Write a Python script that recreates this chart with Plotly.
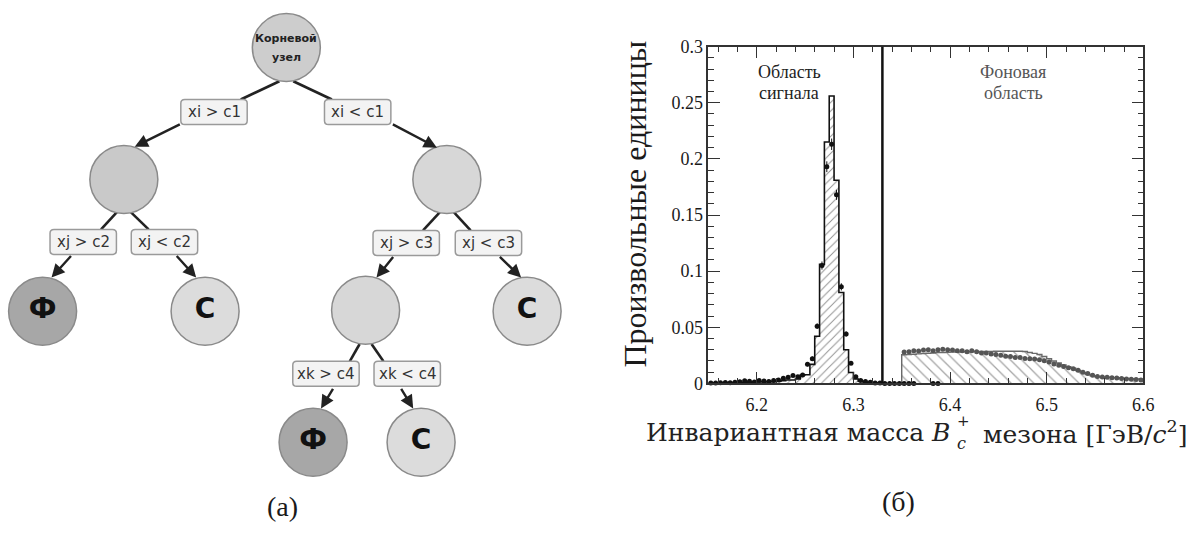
import plotly.graph_objects as go

W, H = 1194, 533

# ---------------- histogram data (right panel) ----------------
BIN_W = 0.005
SIG_START = 6.15
# signal MC histogram, 0.005 GeV bins from 6.15 to 6.33
sig_hist = [0.0005, 0.0005, 0.0006, 0.0006, 0.0007, 0.0008, 0.0009, 0.0010, 0.0011, 0.0012,
            0.0013, 0.0014, 0.0015, 0.0016, 0.0020, 0.0025, 0.0030, 0.0030, 0.0040, 0.0075,
            0.0078, 0.0170, 0.0420, 0.1060, 0.2150, 0.2560, 0.1810, 0.0810, 0.0300, 0.0097,
            0.0040, 0.0020, 0.0010, 0.0007, 0.0005, 0.0003]
# signal data points (same bins)
sig_pts = [0.0005, 0.0004, 0.0006, 0.0008, 0.0007, 0.0010, 0.0015, 0.0025, 0.0020, 0.0012,
           0.0026, 0.0022, 0.0018, 0.0027, 0.0030, 0.0046, 0.0054, 0.0070, 0.0060, 0.0075,
           0.0170, 0.0220, 0.0510, 0.1050, 0.1930, 0.2130, 0.1680, 0.0860, 0.0440, 0.0180,
           0.0060, 0.0026, 0.0017, 0.0010, 0.0005, 0.0003]
sig_err = [0.0003, 0.0003, 0.0003, 0.0004, 0.0004, 0.0005, 0.0006, 0.0008, 0.0007, 0.0005,
           0.0008, 0.0007, 0.0006, 0.0008, 0.0008, 0.0010, 0.0011, 0.0012, 0.0011, 0.0012,
           0.0018, 0.0020, 0.0025, 0.0036, 0.0048, 0.0051, 0.0045, 0.0032, 0.0023, 0.0015,
           0.0009, 0.0006, 0.0005, 0.0004, 0.0003, 0.0002]
# empty signal bins drawn beyond the cut
sig_zero_x = [6.3325, 6.3375, 6.3425, 6.3475, 6.3525, 6.3575, 6.3625, 6.3825, 6.3875]

BG_START = 6.35
# background (sideband) histogram, 0.005 GeV bins from 6.35 to 6.60
bg_hist = [0.0255, 0.0257, 0.0260, 0.0263, 0.0266, 0.0269, 0.0271, 0.0274, 0.0276, 0.0277,
           0.0279, 0.0280, 0.0281, 0.0282, 0.0283, 0.0284, 0.0284, 0.0285, 0.0285, 0.0286,
           0.0286, 0.0286, 0.0287, 0.0286, 0.0286, 0.0285, 0.0276, 0.0268, 0.0258, 0.0240,
           0.0220, 0.0200, 0.0182, 0.0165, 0.0150, 0.0135, 0.0115, 0.0095, 0.0080, 0.0068,
           0.0060, 0.0057, 0.0055, 0.0052, 0.0050, 0.0047, 0.0045, 0.0042, 0.0040, 0.0038]
bg_pts = [0.0280, 0.0282, 0.0290, 0.0288, 0.0298, 0.0300, 0.0292, 0.0300, 0.0305, 0.0300,
          0.0298, 0.0292, 0.0290, 0.0282, 0.0290, 0.0282, 0.0272, 0.0270, 0.0262, 0.0258,
          0.0250, 0.0242, 0.0240, 0.0232, 0.0230, 0.0222, 0.0220, 0.0218, 0.0212, 0.0202,
          0.0190, 0.0172, 0.0162, 0.0150, 0.0140, 0.0130, 0.0118, 0.0100, 0.0088, 0.0074,
          0.0062, 0.0058, 0.0054, 0.0050, 0.0048, 0.0044, 0.0040, 0.0038, 0.0034, 0.0031]
CUT = 6.33

x_ticks = [6.2, 6.3, 6.4, 6.5, 6.6]
y_ticks = [0, 0.05, 0.1, 0.15, 0.2, 0.25, 0.3]

# ---------------- decision tree (left panel) ----------------
node_x = [289, 125, 451, 43, 207, 369, 532, 316, 425]
node_y = [39, 176, 176, 313, 313, 312, 313, 449, 449]
node_text = ["", "", "", "Ф", "С", "", "С", "Ф", "С"]
node_fill = ["#cdcdcd", "#c9c9c9", "#d7d7d7", "#a7a7a7", "#dcdcdc", "#d7d7d7", "#dcdcdc", "#a7a7a7", "#dcdcdc"]
root_lines = ["Корневой", "узел"]

box_label = ["xi > c1", "xi < c1", "xj > c2", "xj < c2", "xj > c3", "xj < c3", "xk > c4", "xk < c4"]
box_x = [216, 361, 84, 166, 410, 493, 329, 411]
box_y = [106, 106, 241, 241, 242, 242, 378, 378]

# plain connectors (node -> condition box)
link_from = [(282, 74), (296, 74), (118, 210), (132, 210), (444, 210), (458, 210), (363, 347), (375, 347)]
link_to = [(243, 93), (335, 93), (102, 228), (150, 228), (427, 229), (475, 229), (353, 365), (387, 365)]
# arrows (condition box -> child node)
arrow_from = [(183, 118), (395, 118), (73, 254), (177, 254), (398, 255), (503, 255), (337, 392), (404, 392)]
arrow_to = [(136, 142), (441, 143), (52, 278), (198, 278), (380, 278), (526, 278), (324, 414), (417, 414)]

# ---------------- figure ----------------
fig = go.Figure()

sig_edges = [round(SIG_START + i * BIN_W, 4) for i in range(len(sig_hist) + 1)]
sig_cent = [round(SIG_START + (i + 0.5) * BIN_W, 5) for i in range(len(sig_hist))]
bg_edges = [round(BG_START + i * BIN_W, 4) for i in range(len(bg_hist) + 1)]
bg_cent = [round(BG_START + (i + 0.5) * BIN_W, 5) for i in range(len(bg_hist))]

# background hatched histogram
fig.add_trace(go.Scatter(
    x=[bg_edges[0]] + bg_edges[:-1] + [bg_edges[-1]],
    y=[0] + bg_hist + [0],
    mode="lines", line=dict(shape="hv", color="#6a6a6a", width=1.4),
    fill="tozeroy", fillcolor="rgba(255,255,255,0)",
    fillpattern=dict(shape="\\", fgcolor="#4a4a4a", bgcolor="rgba(255,255,255,0)", size=8, solidity=0.16),
    xaxis="x", yaxis="y", showlegend=False, hoverinfo="skip"))

# signal hatched histogram
fig.add_trace(go.Scatter(
    x=sig_edges[:-1] + [sig_edges[-1]],
    y=sig_hist + [0],
    mode="lines", line=dict(shape="hv", color="#111111", width=1.6),
    fill="tozeroy", fillcolor="rgba(255,255,255,0)",
    fillpattern=dict(shape="/", fgcolor="#222222", bgcolor="rgba(255,255,255,0)", size=6, solidity=0.16),
    xaxis="x", yaxis="y", showlegend=False, hoverinfo="skip"))

# background points
fig.add_trace(go.Scatter(
    x=bg_cent, y=bg_pts, mode="markers",
    marker=dict(size=5, color="#555555"),
    error_y=dict(type="constant", value=0.0006, color="#555555", thickness=1, width=0),
    xaxis="x", yaxis="y", showlegend=False, hoverinfo="skip"))

# signal points
fig.add_trace(go.Scatter(
    x=sig_cent, y=sig_pts, mode="markers",
    marker=dict(size=5, color="#111111"),
    error_y=dict(type="data", array=sig_err, color="#111111", thickness=1, width=0),
    xaxis="x", yaxis="y", showlegend=False, hoverinfo="skip", cliponaxis=False))
fig.add_trace(go.Scatter(
    x=sig_zero_x, y=[0] * len(sig_zero_x), mode="markers",
    marker=dict(size=5, color="#111111"),
    xaxis="x", yaxis="y", showlegend=False, hoverinfo="skip", cliponaxis=False))

# tree nodes
fig.add_trace(go.Scatter(
    x=node_x, y=node_y, mode="markers+text", text=node_text,
    textposition="middle center",
    textfont=dict(family="DejaVu Sans", size=28, color="#111111", weight="bold"),
    marker=dict(size=68, color=node_fill, line=dict(color="#8a8a8a", width=1.5)),
    xaxis="x2", yaxis="y2", showlegend=False, hoverinfo="skip", cliponaxis=False))

shapes = []
annotations = []


def ptext(txt, px, py, size, family, color="#1a1a1a", xanchor="center", angle=0):
    annotations.append(dict(xref="paper", yref="paper", x=px / W, y=1 - py / H, text=txt,
                            xanchor=xanchor, yanchor="middle", textangle=angle, showarrow=False,
                            borderpad=0, font=dict(family=family, size=size, color=color)))


# cut line
shapes.append(dict(type="line", xref="x", yref="y", x0=CUT, x1=CUT, y0=0, y1=0.3,
                   line=dict(color="#111111", width=2.5)))

# connectors
for (x0, y0), (x1, y1) in zip(link_from, link_to):
    shapes.append(dict(type="line", xref="x2", yref="y2", x0=x0, y0=y0, x1=x1, y1=y1,
                       line=dict(color="#222222", width=2.6), layer="below"))

# condition boxes with rounded corners
BW, BH, R = 67, 26, 4
for lab, cx, cy in zip(box_label, box_x, box_y):
    l, r, t, b = cx - BW / 2, cx + BW / 2, cy - BH / 2, cy + BH / 2
    path = (f"M{l+R},{t} L{r-R},{t} Q{r},{t} {r},{t+R} L{r},{b-R} Q{r},{b} {r-R},{b} "
            f"L{l+R},{b} Q{l},{b} {l},{b-R} L{l},{t+R} Q{l},{t} {l+R},{t} Z")
    shapes.append(dict(type="path", xref="x2", yref="y2", path=path,
                       fillcolor="#f3f3f3", line=dict(color="#9a9a9a", width=1.5)))
    annotations.append(dict(xref="x2", yref="y2", x=cx, y=cy, text=lab, showarrow=False,
                            xanchor="center", yanchor="middle",
                            font=dict(family="DejaVu Sans", size=15, color="#333333")))

# arrows
for (x0, y0), (x1, y1) in zip(arrow_from, arrow_to):
    annotations.append(dict(xref="x2", yref="y2", axref="x2", ayref="y2",
                            x=x1, y=y1, ax=x0, ay=y0, text="", showarrow=True,
                            arrowhead=2, arrowsize=1.1, arrowwidth=2.4, arrowcolor="#222222",
                            standoff=0, startstandoff=0))

# root text
for i, line in enumerate(root_lines):
    annotations.append(dict(xref="x2", yref="y2", x=node_x[0], y=node_y[0] - 9 + 19 * i,
                            text=f"<b>{line}</b>", showarrow=False, xanchor="center", yanchor="middle",
                            font=dict(family="DejaVu Sans", size=11, color="#222222")))

serif = "Liberation Serif"
cm = "DejaVu Serif"
# region labels
ptext("Область", 797, 64, 18, serif, "#222222")
ptext("сигнала", 796, 86, 18, serif, "#222222")
ptext("Фоновая", 1022, 64, 18, serif, "#555555")
ptext("область", 1023, 86, 18, serif, "#555555")

# y axis title
ptext("Произвольные единицы", 641, 202, 32, serif, "#1a1a1a", angle=-90)
# x axis title (pieces so that the sub/superscript of B are stacked)
ptext("Инвариантная масса <i>B</i>", 960, 439, 25, cm, "#222222", xanchor="right")
ptext("+", 965, 427, 15, cm, "#222222", xanchor="left")
ptext("<i>c</i>", 965, 450, 16, cm, "#222222", xanchor="left")
ptext("мезона [ГэВ/<i>c</i><sup>2</sup>]", 991, 439, 25, cm, "#222222", xanchor="left")

# panel captions
ptext("(a)", 285, 516, 28, serif)
ptext("(б)", 907, 511, 28, serif)

axis_common = dict(ticks="inside", tickcolor="#333333", tickwidth=1, ticklen=12,
                   showline=True, linecolor="#333333", linewidth=1.5, mirror="allticks",
                   showgrid=False, zeroline=False,
                   tickfont=dict(family=serif, size=18, color="#1a1a1a"))

fig.update_layout(
    width=W, height=H, margin=dict(l=0, r=0, t=0, b=0),
    paper_bgcolor="white", plot_bgcolor="rgba(0,0,0,0)",
    xaxis=dict(domain=[715 / W, 1154 / W], range=[6.15, 6.6 + 1e-9], anchor="y",
               tickmode="array", tickvals=x_ticks, ticktext=[f"{v:.1f}" for v in x_ticks],
               ticklabelstandoff=4,
               minor=dict(tickmode="linear", tick0=6.2, dtick=0.02, ticks="inside", ticklen=6,
                          tickcolor="#333333"),
               **axis_common),
    yaxis=dict(domain=[1 - 388 / H, 1 - 38 / H], range=[0, 0.3 + 1e-9], anchor="x",
               tickmode="array", tickvals=y_ticks, ticktext=[f"{v:g}" for v in y_ticks],
               minor=dict(tickmode="linear", tick0=0, dtick=0.01, ticks="inside", ticklen=6,
                          tickcolor="#333333"),
               **axis_common),
    xaxis2=dict(domain=[0, 600 / W], range=[0, 600], anchor="y2", visible=False),
    yaxis2=dict(domain=[0, 1], range=[H, 0], anchor="x2", visible=False),
    shapes=shapes, annotations=annotations,
)

fig.write_html("out.html")
